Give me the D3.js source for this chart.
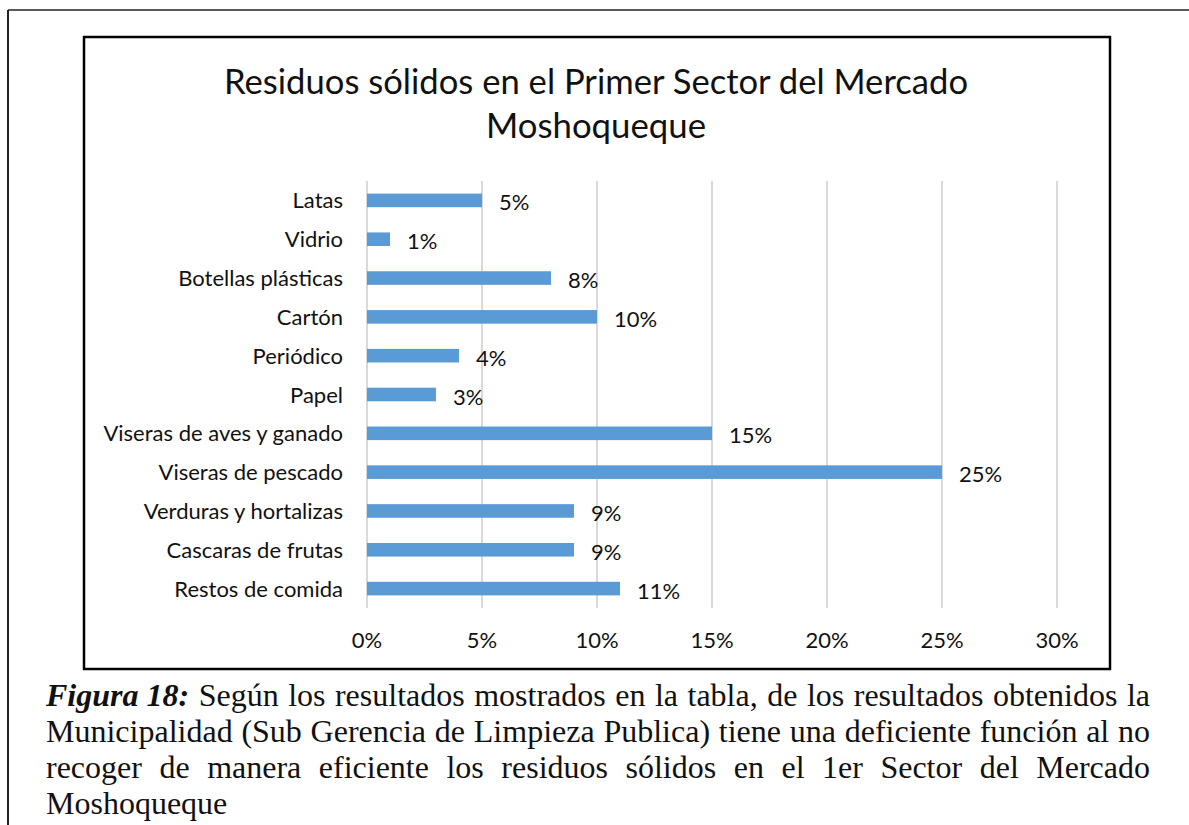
<!DOCTYPE html>
<html lang="es">
<head>
<meta charset="utf-8">
<title>Residuos sólidos - Mercado Moshoqueque</title>
<script src="https://cdn.jsdelivr.net/npm/d3@7"></script>
<style>
  body { margin: 0; background: #fff; }
  svg { display: block; }
</style>
</head>
<body>
<script>

// data
var categories = ["Latas", "Vidrio", "Botellas plásticas", "Cartón", "Periódico", "Papel",
                  "Viseras de aves y ganado", "Viseras de pescado", "Verduras y hortalizas",
                  "Cascaras de frutas", "Restos de comida"];
var values = [5, 1, 8, 10, 4, 3, 15, 25, 9, 9, 11];
var xTicks = [0, 5, 10, 15, 20, 25, 30];
var titleLines = ["Residuos sólidos en el Primer Sector del Mercado", "Moshoqueque"];
var captionLabel = "Figura 18:";
var captionLines = [
  "Según los resultados mostrados en la tabla, de los resultados obtenidos la",
  "Municipalidad (Sub Gerencia de Limpieza Publica) tiene una deficiente función al no",
  "recoger de manera eficiente los residuos sólidos en el 1er Sector del Mercado",
  "Moshoqueque"
];

var w = 1189, h = 825;
var sans = "Lato, 'Open Sans', sans-serif";
var serif = "'Liberation Serif', 'DejaVu Serif', serif";

var svg = d3.select("body").append("svg")
  .attr("width", w)
  .attr("height", h);

// page frame (table cell borders)
svg.append("line").attr("x1", 8).attr("y1", 10).attr("x2", w).attr("y2", 10)
  .attr("stroke", "#222").attr("stroke-width", 1.5);
svg.append("line").attr("x1", 8).attr("y1", 10).attr("x2", 8).attr("y2", h)
  .attr("stroke", "#222").attr("stroke-width", 2);

// chart frame
svg.append("rect")
  .attr("x", 84).attr("y", 37)
  .attr("width", 1026).attr("height", 632)
  .attr("fill", "#fff")
  .attr("stroke", "#000")
  .attr("stroke-width", 2.5);

// title
var titleWidths = [744, 220];
svg.selectAll("text.title")
  .data(titleLines)
  .enter()
  .append("text")
  .attr("class", "title")
  .attr("x", 596)
  .attr("y", function(d, i) { return 94 + i * 44; })
  .attr("text-anchor", "middle")
  .attr("font-family", sans)
  .attr("font-size", "35px")
  .attr("fill", "#111")
  .attr("textLength", function(d, i) { return titleWidths[i]; })
  .attr("lengthAdjust", "spacingAndGlyphs")
  .text(function(d) { return d; });

// scales
var xScale = d3.scaleLinear().domain([0, 30]).range([367, 1057]);
var yScale = d3.scaleBand()
  .domain(categories)
  .range([181, 608])
  .paddingInner(0.65)
  .paddingOuter(0.325);

// gridlines
svg.selectAll("line.grid")
  .data(xTicks)
  .enter()
  .append("line")
  .attr("class", "grid")
  .attr("x1", function(d) { return xScale(d); })
  .attr("x2", function(d) { return xScale(d); })
  .attr("y1", 181)
  .attr("y2", 608)
  .attr("stroke", "#d9d9d9")
  .attr("stroke-width", 2);

// x tick labels
svg.selectAll("text.xtick")
  .data(xTicks)
  .enter()
  .append("text")
  .attr("class", "xtick")
  .attr("x", function(d) { return xScale(d); })
  .attr("y", 648)
  .attr("text-anchor", "middle")
  .attr("font-family", sans)
  .attr("font-size", "22px")
  .attr("fill", "#111")
  .text(function(d) { return d + "%"; });

// category labels
svg.selectAll("text.cat")
  .data(categories)
  .enter()
  .append("text")
  .attr("class", "cat")
  .attr("x", 343)
  .attr("y", function(d) { return yScale(d) + yScale.bandwidth() / 2 + 8; })
  .attr("text-anchor", "end")
  .attr("font-family", sans)
  .attr("font-size", "22px")
  .attr("fill", "#111")
  .text(function(d) { return d; });

// bars
svg.selectAll("rect.bar")
  .data(values)
  .enter()
  .append("rect")
  .attr("class", "bar")
  .attr("x", xScale(0))
  .attr("y", function(d, i) { return yScale(categories[i]); })
  .attr("width", function(d) { return xScale(d) - xScale(0); })
  .attr("height", yScale.bandwidth())
  .attr("fill", "#5b9bd5");

// value labels
svg.selectAll("text.val")
  .data(values)
  .enter()
  .append("text")
  .attr("class", "val")
  .attr("x", function(d) { return xScale(d) + 17; })
  .attr("y", function(d, i) { return yScale(categories[i]) + yScale.bandwidth() / 2 + 10; })
  .attr("font-family", sans)
  .attr("font-size", "22px")
  .attr("fill", "#111")
  .text(function(d) { return d + "%"; });

// caption, justified between left and right margins
var capLeft = 46, capRight = 1150, capSize = 32;
captionLines.forEach(function(line, li) {
  var y = 706 + li * 36;
  var words = line.split(" ");
  var items = [];
  if (li == 0) items.push({ t: captionLabel, bold: true });
  words.forEach(function(wd) { items.push({ t: wd, bold: false }); });

  var g = svg.append("g");
  var nodes = g.selectAll("text")
    .data(items)
    .enter()
    .append("text")
    .attr("y", y)
    .attr("font-family", serif)
    .attr("font-size", capSize + "px")
    .attr("font-weight", function(d) { return d.bold ? "bold" : "normal"; })
    .attr("font-style", function(d) { return d.bold ? "italic" : "normal"; })
    .attr("fill", "#111")
    .text(function(d) { return d.t; });

  var widths = nodes.nodes().map(function(n) { return n.getComputedTextLength(); });
  var total = d3.sum(widths);
  var gap = capSize * 0.25;
  if (li < captionLines.length - 1) gap = (capRight - capLeft - total) / (items.length - 1);
  var x = capLeft;
  nodes.attr("x", function(d, i) {
    var cur = x;
    x += widths[i] + gap;
    return cur;
  });
});

</script>
</body>
</html>
